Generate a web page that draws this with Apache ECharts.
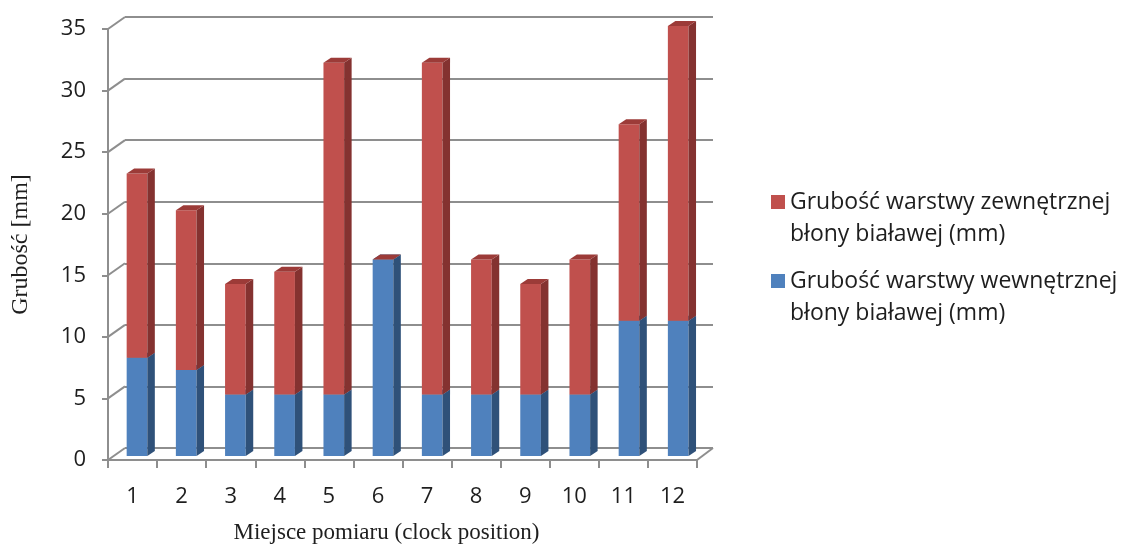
<!DOCTYPE html>
<html>
<head>
<meta charset="utf-8">
<script src="https://cdn.jsdelivr.net/npm/echarts@6/dist/echarts.min.js"></script>
<style>
  html, body { margin: 0; padding: 0; background: #fff; }
  #main { width: 1123px; height: 545px; }
</style>
</head>
<body>
<div id="main"></div>
<script>
// data
var categories = ['1', '2', '3', '4', '5', '6', '7', '8', '9', '10', '11', '12'];
var inner = [8, 7, 5, 5, 5, 16, 5, 5, 5, 5, 11, 11];      // wewnętrzna (blue)
var outer = [15, 13, 9, 10, 27, 0, 27, 11, 9, 11, 16, 24]; // zewnętrzna (red)
var yTicks = [0, 5, 10, 15, 20, 25, 30, 35];
var nameOuter = 'Grubość warstwy zewnętrznej\nbłony białawej (mm)';
var nameInner = 'Grubość warstwy wewnętrznej\nbłony białawej (mm)';

var chart = echarts.init(document.getElementById('main'));

var GRAY = '#8e8e8e';
var TXT = '#1e1e1e';
var SANS = '"Open Sans", sans-serif';
var SERIF = '"Liberation Serif", "DejaVu Serif", serif';
var DX = 7.5, DY = -5;           // bar depth
var WALL_DX = 17, WALL_DY = -12; // wall depth

function bar3d(front, side, top) {
  return function (params, api) {
    var i = api.value(0);
    var pBot = api.coord([i, api.value(1)]);
    var pTop = api.coord([i, api.value(2)]);
    var w = api.size([1, 0])[0] * 0.42;
    var l = pBot[0] - w / 2, r = pBot[0] + w / 2;
    var yb = pBot[1], yt = pTop[1];
    var kids = [];
    if (yb - yt > 0.1) {
      kids.push({ type: 'rect', shape: { x: l, y: yt, width: w, height: yb - yt }, style: { fill: front } });
      kids.push({ type: 'polygon', shape: { points: [[r, yt], [r + DX, yt + DY], [r + DX, yb + DY], [r, yb]] }, style: { fill: side } });
    }
    kids.push({ type: 'polygon', shape: { points: [[l, yt], [l + DX, yt + DY], [r + DX, yt + DY], [r, yt]] }, style: { fill: top } });
    return { type: 'group', children: kids };
  };
}

var blueData = inner.map(function (v, i) { return [i, 0, v]; });
var redData = outer.map(function (v, i) { return [i, inner[i], inner[i] + v]; });

var option = {
  animation: false,
  backgroundColor: '#fff',
  legend: {
    orient: 'vertical',
    left: 766,
    top: 149,
    itemWidth: 14,
    itemHeight: 14,
    itemGap: -17,
    icon: 'rect',
    data: [nameOuter, nameInner],
    // empty first line so the square sits next to the first text line
    formatter: function (name) { return '\n' + name; },
    textStyle: { fontFamily: SANS, fontSize: 23, color: TXT, lineHeight: 32 }
  },
  grid: [
    { left: 108, top: 29, width: 589, height: 431, outerBoundsMode: 'none' },    // front axes
    { left: 125, top: 17, width: 588, height: 431, outerBoundsMode: 'none' },    // back wall
    { left: 112.4, top: 26, width: 590.4, height: 430, outerBoundsMode: 'none' } // bars
  ],
  xAxis: [
    {
      gridIndex: 0, type: 'category', data: categories,
      axisLine: { lineStyle: { color: GRAY, width: 2 } },
      axisTick: { show: true, length: 8, lineStyle: { color: GRAY, width: 2 } },
      axisLabel: { fontFamily: SANS, fontSize: 22, color: TXT, margin: 26 },
      name: 'Miejsce pomiaru (clock position)', nameLocation: 'middle', nameGap: 61,
      nameTextStyle: { fontFamily: SERIF, fontSize: 23, color: TXT, padding: [0, 32, 0, 0] }
    },
    { gridIndex: 1, type: 'category', data: categories, show: false },
    { gridIndex: 2, type: 'category', data: categories, show: false }
  ],
  yAxis: [
    {
      gridIndex: 0, type: 'value', min: 0, max: 35, interval: 5,
      axisLine: { show: true, lineStyle: { color: GRAY, width: 2 } },
      axisTick: { show: true, length: 6, lineStyle: { color: GRAY, width: 2 } },
      axisLabel: { fontFamily: SANS, fontSize: 22, color: TXT, margin: 22 },
      splitLine: { show: false },
      name: 'Grubość [mm]', nameLocation: 'middle', nameGap: 75,
      nameTextStyle: { fontFamily: SERIF, fontSize: 24, color: TXT }
    },
    {
      gridIndex: 1, type: 'value', min: 0, max: 35, interval: 5,
      axisLine: { show: false }, axisTick: { show: false }, axisLabel: { show: false },
      splitLine: { show: true, lineStyle: { color: GRAY, width: 2 } }
    },
    { gridIndex: 2, type: 'value', min: 0, max: 35, interval: 5, show: false, splitLine: { show: false } }
  ],
  series: [
    {
      // side wall connectors
      type: 'custom', xAxisIndex: 0, yAxisIndex: 0, silent: true, clip: false, z: 1,
      data: yTicks.map(function (v) { return [0, v]; }),
      renderItem: function (params, api) {
        var cs = params.coordSys;
        var y = api.coord([0, api.value(1)])[1];
        var kids = [{ type: 'line', shape: { x1: cs.x, y1: y, x2: cs.x + WALL_DX, y2: y + WALL_DY },
          style: { stroke: GRAY, lineWidth: 2 } }];
        if (api.value(1) === 0) {
          kids.push({ type: 'line', shape: { x1: cs.x + cs.width, y1: y, x2: cs.x + cs.width + WALL_DX - 1, y2: y + WALL_DY },
            style: { stroke: GRAY, lineWidth: 2 } });
        }
        return { type: 'group', children: kids };
      }
    },
    {
      name: nameInner, type: 'custom', xAxisIndex: 2, yAxisIndex: 2, z: 5,
      itemStyle: { color: '#4F81BD' },
      data: blueData,
      renderItem: bar3d('#4F81BD', '#2F5179', '#3C6592')
    },
    {
      name: nameOuter, type: 'custom', xAxisIndex: 2, yAxisIndex: 2, z: 6,
      itemStyle: { color: '#C0504D' },
      data: redData,
      renderItem: bar3d('#C0504D', '#843230', '#9C3B38')
    }
  ]
};

chart.setOption(option);
</script>
</body>
</html>
